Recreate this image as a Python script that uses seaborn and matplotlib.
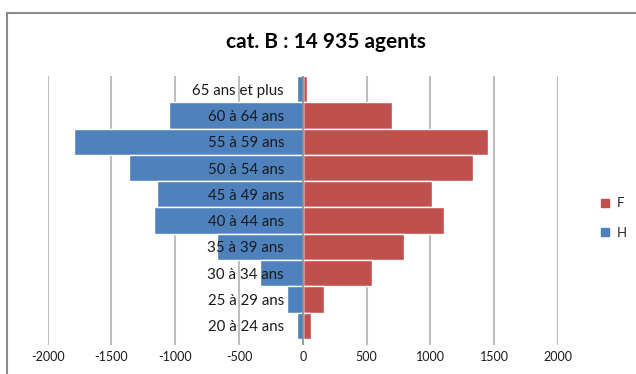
import matplotlib
matplotlib.use("Agg")
import matplotlib.pyplot as plt
import seaborn as sns
import pandas as pd
from matplotlib.patches import Rectangle
from matplotlib.lines import Line2D

# ---- data ----
age_groups = ["65 ans et plus", "60 à 64 ans", "55 à 59 ans", "50 à 54 ans", "45 à 49 ans",
              "40 à 44 ans", "35 à 39 ans", "30 à 34 ans", "25 à 29 ans", "20 à 24 ans"]
femmes = [31, 697, 1453, 1338, 1013, 1105, 796, 540, 168, 63]
hommes = [47, 1045, 1790, 1361, 1140, 1164, 673, 334, 125, 49]
x_ticks = [-2000, -1500, -1000, -500, 0, 500, 1000, 1500, 2000]
title = "cat. B : 14 935 agents"
series_names = ["F", "H"]
colors = {"F": "#C0504D", "H": "#4F81BD"}

df = pd.DataFrame({
    "age": age_groups * 2,
    "sexe": ["F"] * len(age_groups) + ["H"] * len(age_groups),
    "valeur": femmes + [-v for v in hommes],
})

sns.set_theme(style="white")
plt.rcParams["font.family"] = ["Lato", "DejaVu Sans"]

fig = plt.figure(figsize=(6.36, 3.74), dpi=100)
fig.patch.set_facecolor("white")
ax = fig.add_axes([47.7 / 636, 1 - 345 / 374, (557.8 - 47.7) / 636, (345 - 76) / 374])

sns.barplot(data=df, x="valeur", y="age", hue="sexe", order=age_groups,
            hue_order=series_names, palette=colors, dodge=False, width=1.0,
            orient="h", ax=ax, legend=False, saturation=1, zorder=2)

ax.set_axisbelow(False)
ax.set_xlim(-2000, 2000)
ax.set_ylim(9.73, -0.5)
ax.set_xticks(x_ticks)
ax.set_xticklabels([str(t) for t in x_ticks], fontsize=9, color="#1a1a1a")
for s in ax.spines.values():
    s.set_visible(False)
ax.set_xlabel("")
ax.set_ylabel("")
ax.grid(False)
for t in x_ticks:
    if t != 0:
        ax.axvline(t, color="#BEBEBE", lw=1.5, zorder=0)
ax.axvline(0, color="#868686", lw=1.2, zorder=2.2)
ax.tick_params(axis="x", length=0, pad=4)
ax.tick_params(axis="y", length=0, pad=-(284 - 47.7) * 0.72, labelsize=10.8, labelcolor="#1a1a1a")

fig.text(325.8 / 636, 1 - 42.5 / 374, title, ha="center", va="center",
         fontsize=15, fontweight="bold", color="#000000")

handles = [Line2D([], [], marker="s", linestyle="", markersize=6,
                  markerfacecolor=colors[n], markeredgecolor=colors[n]) for n in series_names]
fig.legend(handles, series_names, loc="center left", bbox_to_anchor=(598 / 636, 1 - 218 / 374),
           frameon=False, fontsize=9.5, handletextpad=0.4, labelspacing=1.3,
           borderpad=0, borderaxespad=0, handlelength=1.0)

fig.add_artist(Rectangle((7 / 636, -0.2), 1.2, 1.2 - 13 / 374, transform=fig.transFigure,
                         fill=False, edgecolor="#8C8C8C", lw=1.5))

fig.savefig("out.png", dpi=100)
